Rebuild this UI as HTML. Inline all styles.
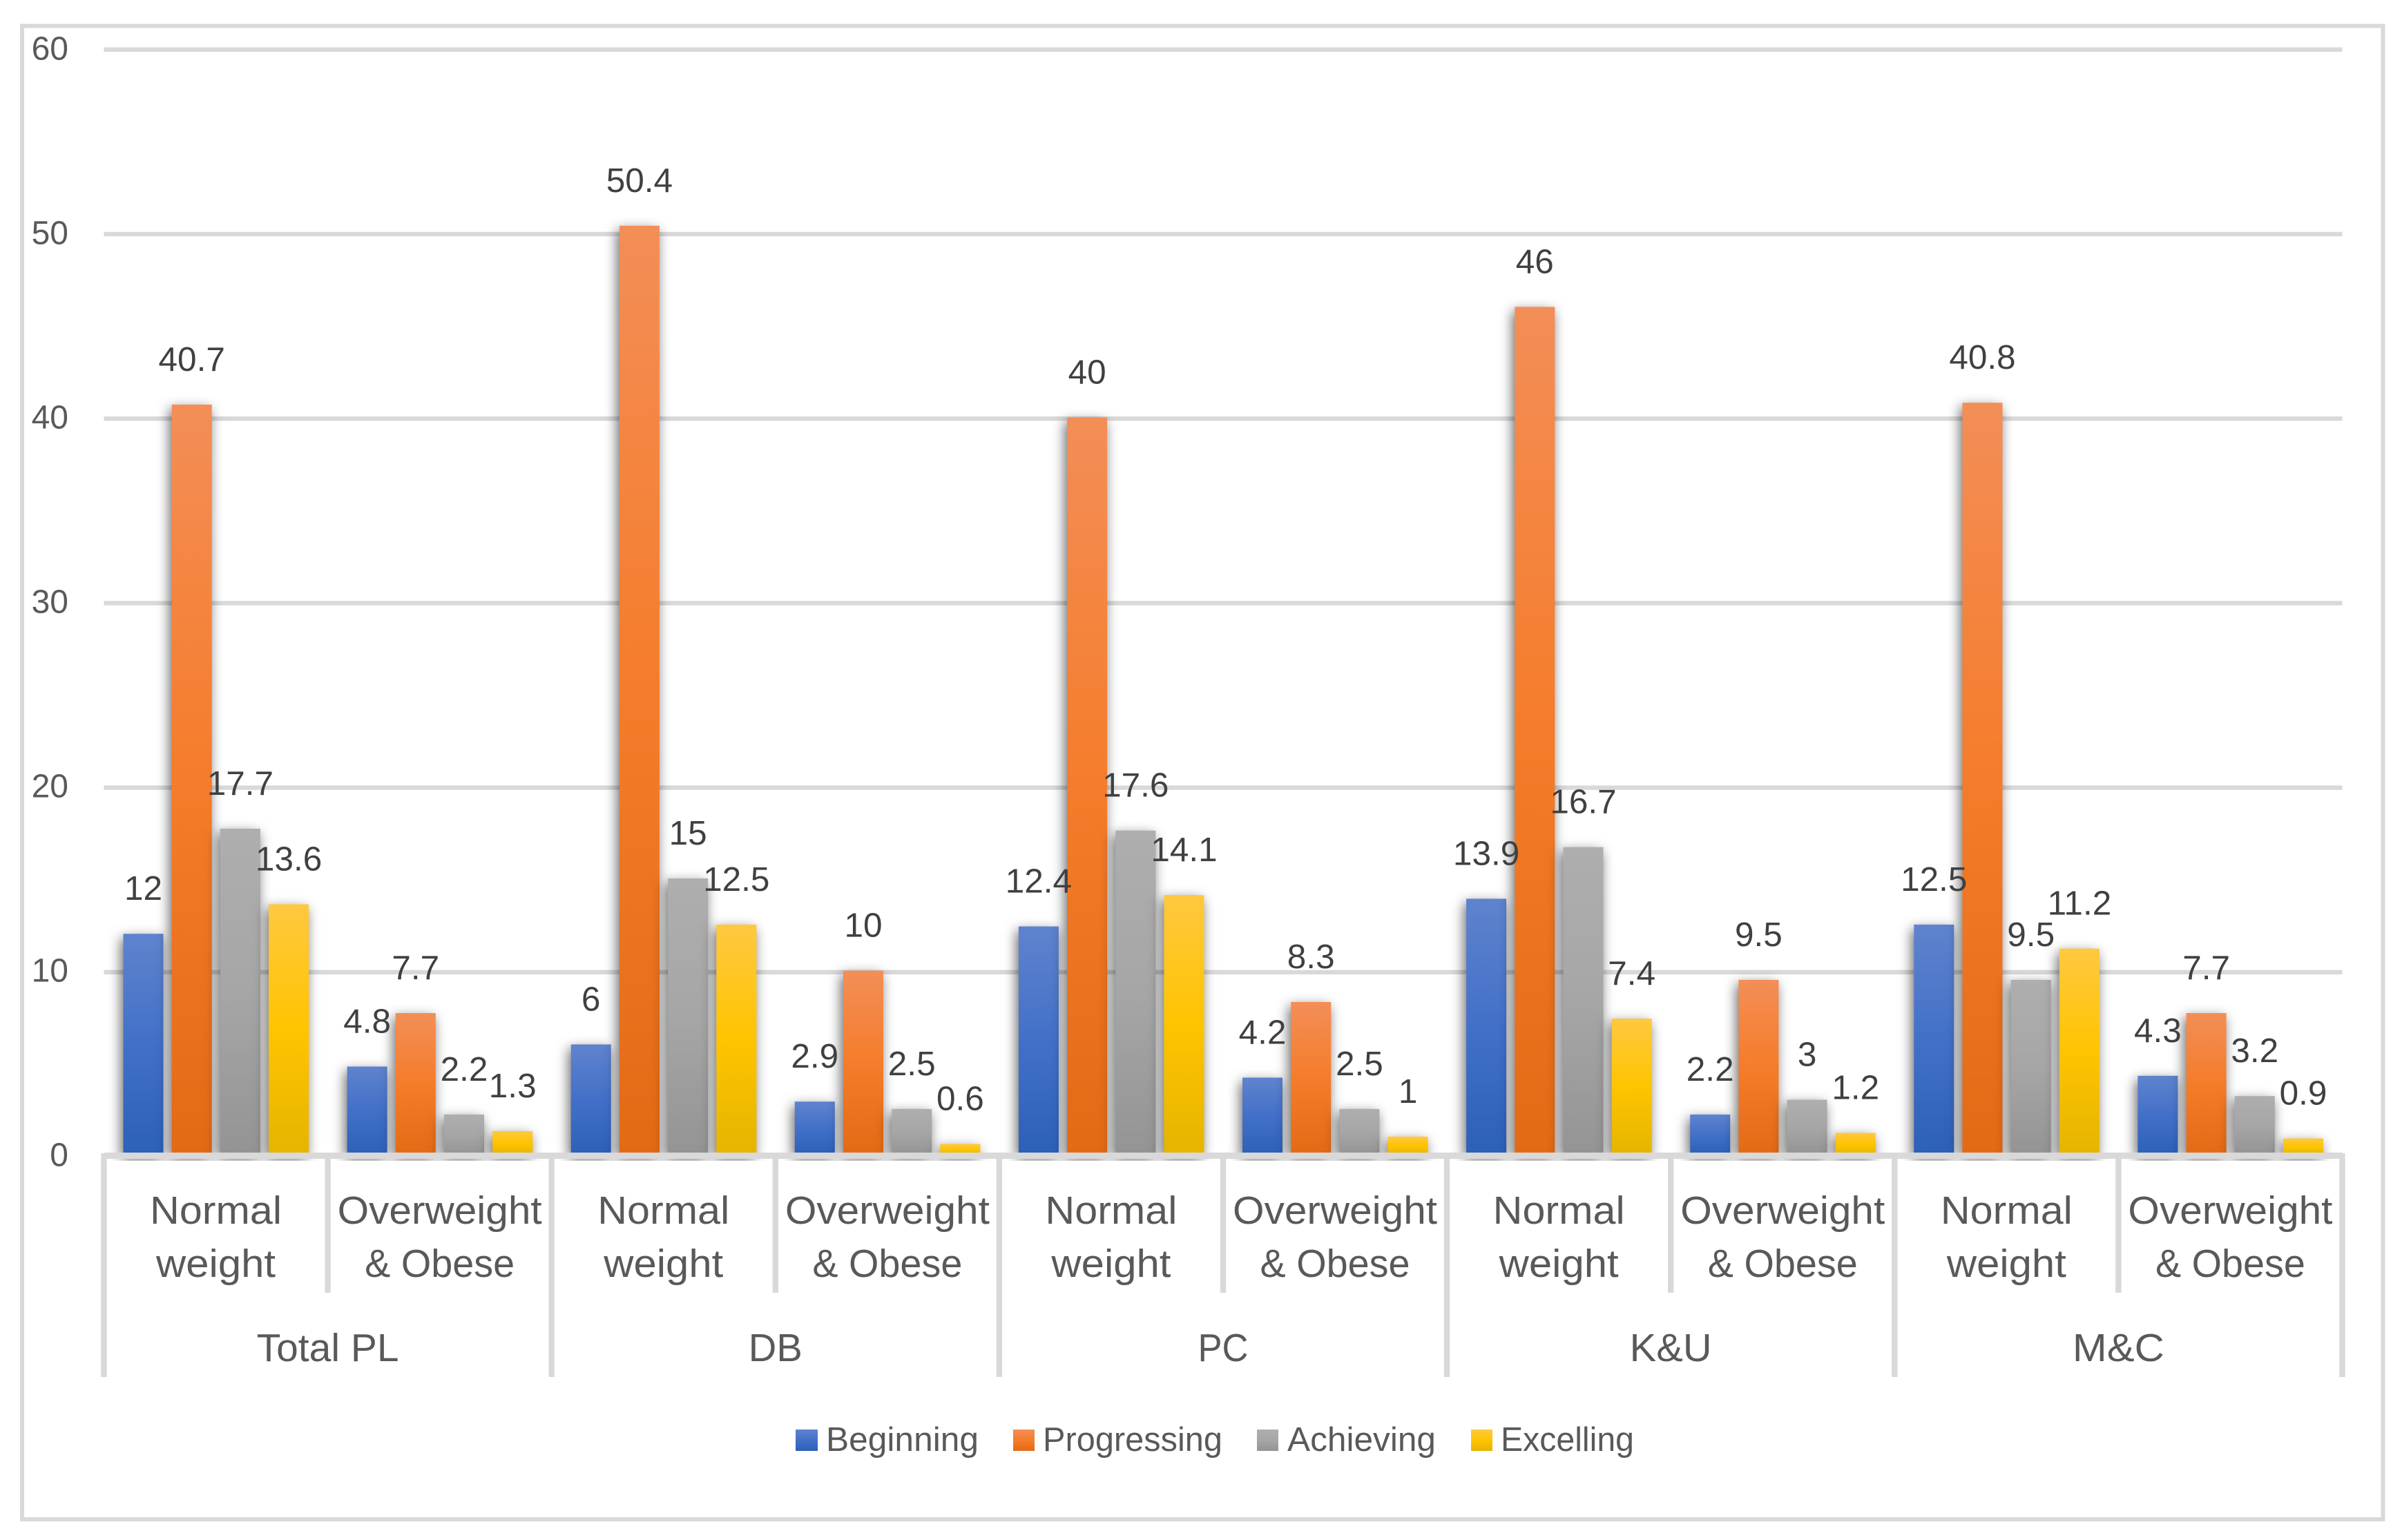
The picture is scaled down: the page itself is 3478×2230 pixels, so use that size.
<!DOCTYPE html>
<html lang="en">
<head>
<meta charset="utf-8">
<title>Performance levels by weight status</title>
<style>
html,body{margin:0;padding:0;background:#fff;width:3478px;height:2230px;overflow:hidden}
svg{display:block}
text{font-family:"Liberation Sans",sans-serif}
</style>
</head>
<body>
<svg id="chart" xmlns="http://www.w3.org/2000/svg" width="3478" height="2230" viewBox="0 0 3478 2230">
<defs>
<linearGradient id="g0" x1="0" y1="0" x2="0" y2="1"><stop offset="0" stop-color="#5F83CE"/><stop offset="0.5" stop-color="#4270C8"/><stop offset="1" stop-color="#2D60B8"/></linearGradient>
<linearGradient id="g1" x1="0" y1="0" x2="0" y2="1"><stop offset="0" stop-color="#F38E57"/><stop offset="0.5" stop-color="#F57C2A"/><stop offset="1" stop-color="#E36A15"/></linearGradient>
<linearGradient id="g2" x1="0" y1="0" x2="0" y2="1"><stop offset="0" stop-color="#AEAEAE"/><stop offset="0.5" stop-color="#A6A6A6"/><stop offset="1" stop-color="#949494"/></linearGradient>
<linearGradient id="g3" x1="0" y1="0" x2="0" y2="1"><stop offset="0" stop-color="#FFC840"/><stop offset="0.5" stop-color="#FFC400"/><stop offset="1" stop-color="#E5B400"/></linearGradient>
<filter id="bar-shadow" filterUnits="userSpaceOnUse" x="0" y="0" width="3478" height="2230" color-interpolation-filters="sRGB">
<feDropShadow dx="-3" dy="6" stdDeviation="9" flood-color="#000" flood-opacity="0.6"/>
</filter>
<clipPath id="plot-clip"><rect x="0" y="0" width="3478" height="1681"/></clipPath>
</defs>
<rect x="0" y="0" width="3478" height="2230" fill="#fff"/>
<rect x="32" y="37.5" width="3418.5" height="2162.5" fill="#fff" stroke="#D9D9D9" stroke-width="6"/>
<g id="grid"></g>
<g id="bars" clip-path="url(#plot-clip)"></g>
<g id="axis"></g>
<g id="labels"></g>
<g font-size="49" fill="#595959">
<g><rect x="1152" y="2070" width="32" height="31" fill="url(#g0)"/><text x="1196" y="2101" textLength="221" lengthAdjust="spacingAndGlyphs">Beginning</text></g>
<g><rect x="1467" y="2070" width="31" height="31" fill="url(#g1)"/><text x="1510" y="2101" textLength="260" lengthAdjust="spacingAndGlyphs">Progressing</text></g>
<g><rect x="1820" y="2070" width="31" height="31" fill="url(#g2)"/><text x="1864" y="2101" textLength="215" lengthAdjust="spacingAndGlyphs">Achieving</text></g>
<g><rect x="2130" y="2070" width="31" height="31" fill="url(#g3)"/><text x="2173" y="2101" textLength="193" lengthAdjust="spacingAndGlyphs">Excelling</text></g>
</g>
</svg>
<script>
const groups = ["Total PL", "DB", "PC", "K&U", "M&C"];
const subgroupLine1 = ["Normal", "Overweight"];
const subgroupLine2 = ["weight", "& Obese"];
const seriesNames = ["Beginning", "Progressing", "Achieving", "Excelling"];
const beginning = [12, 4.8, 6, 2.9, 12.4, 4.2, 13.9, 2.2, 12.5, 4.3];
const progressing = [40.7, 7.7, 50.4, 10, 40, 8.3, 46, 9.5, 40.8, 7.7];
const achieving = [17.7, 2.2, 15, 2.5, 17.6, 2.5, 16.7, 3, 9.5, 3.2];
const excelling = [13.6, 1.3, 12.5, 0.6, 14.1, 1, 7.4, 1.2, 11.2, 0.9];
const yTicks = [0, 10, 20, 30, 40, 50, 60];

const NS = "http://www.w3.org/2000/svg";
const allSeries = [beginning, progressing, achieving, excelling];
const left = 150.5, subW = 324.1;
function yScale(v) { return 1672.6 - v * 26.7; }
function gridScale(v) { return 1675 - v * 26.72; }
function xSub(i) { return left + i * subW; }
function xBar(i, s) { return xSub(i) + 28 + s * 70.2; }

function fitText(label) {
  if (label === "Normal") return 191;
  if (label === "weight") return 173;
  if (label === "Overweight") return 296;
  if (label === "& Obese") return 217;
  if (label === "Total PL") return 206;
  if (label === "DB") return 78;
  if (label === "PC") return 73;
  if (label === "K&U") return 119;
  return 133;
}
function mk(tag, attrs, parent, txt) {
  const el = document.createElementNS(NS, tag);
  for (const k in attrs) el.setAttribute(k, attrs[k]);
  if (txt !== undefined) el.textContent = txt;
  parent.appendChild(el);
  return el;
}
const gridG = document.getElementById("grid");
const barsG = document.getElementById("bars");
const axisG = document.getElementById("axis");
const labelsG = document.getElementById("labels");

yTicks.forEach(function (t) {
  if (t !== 0) {
    const line = mk("rect", { x: left, y: gridScale(t) - 3.2, width: subW * 10, height: 6.4, fill: "#D9D9D9" }, gridG);
    
    
  }
  const lab = mk("text", { x: 99, y: yScale(t) + 16, "text-anchor": "end", "font-size": 48, fill: "#595959" }, labelsG, String(t));
  
  
});

allSeries.forEach(function (vals, s) {
  vals.forEach(function (v, i) {
    const top = yScale(v);
    const bar = mk("rect", { x: xBar(i, s), y: top, width: 58, height: yScale(0) - top, fill: "url(#g" + s + ")", filter: "url(#bar-shadow)" }, barsG);
    
    
  });
});

allSeries.forEach(function (vals, s) {
  vals.forEach(function (v, i) {
    const t = mk("text", { x: xBar(i, s) + 29, y: yScale(v) - 49, "text-anchor": "middle", "font-size": 49.5, fill: "#404040" }, labelsG, String(v));
    
    
  });
});

const xAxis = mk("rect", { x: left, y: 1669, width: subW * 10, height: 9, fill: "#D9D9D9" }, axisG);



for (let i = 0; i <= 10; i++) {
  const isGroup = i % 2 === 0;
  const tick = mk("rect", { x: xSub(i) - 4.2, y: 1670, width: 8.4, height: (isGroup ? 1994 : 1872) - 1670, fill: "#D9D9D9" }, axisG);
  
  
}

for (let i = 0; i < 10; i++) {
  const cx = xSub(i) + subW / 2;
  const line1 = subgroupLine1[i % 2];
  const line2 = subgroupLine2[i % 2];
  const a = mk("text", { x: cx, y: 1772, "text-anchor": "middle", "font-size": 57, fill: "#595959", textLength: fitText(line1), lengthAdjust: "spacingAndGlyphs" }, labelsG, line1);
  
  
  const b = mk("text", { x: cx, y: 1849, "text-anchor": "middle", "font-size": 57, fill: "#595959", textLength: fitText(line2), lengthAdjust: "spacingAndGlyphs" }, labelsG, line2);
  
  
}

groups.forEach(function (g, i) {
  const t = mk("text", { x: xSub(i * 2 + 1), y: 1971, "text-anchor": "middle", "font-size": 57, fill: "#595959", textLength: fitText(g), lengthAdjust: "spacingAndGlyphs" }, labelsG, g);
  
  
});
</script>
</body>
</html>
